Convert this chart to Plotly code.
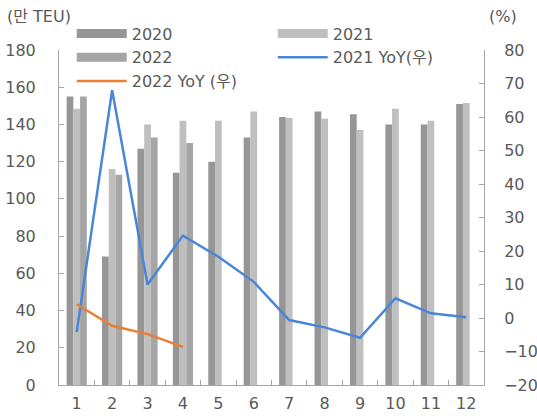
import plotly.graph_objects as go

months = [str(i) for i in range(1, 13)]
v2020 = [155, 69, 127, 114, 120, 133, 144, 147, 145.5, 140, 140, 151]
v2021 = [148.5, 116, 140, 142, 142, 147, 143.5, 143, 137, 148.5, 142, 151.5]
v2022 = [155, 113, 133, 130, None, None, None, None, None, None, None, None]
yoy2021 = [-4.2, 68, 10, 24.6, 18.3, 10.8, -0.6, -2.8, -5.9, 5.9, 1.4, 0.2]
yoy2022 = [4.1, -2.3, -4.8, -8.6]

C2020 = "#969696"
C2021 = "#BFBFBF"
C2022 = "#A5A5A5"
CBLUE = "#4A86D8"
CORANGE = "#ED7D31"
TXT = "#595959"
FONT = "DejaVu Sans, Noto Sans CJK KR, sans-serif"

fig = go.Figure()
for name, vals, col in [("2020", v2020, C2020), ("2021", v2021, C2021), ("2022", v2022, C2022)]:
    fig.add_trace(go.Bar(x=months, y=vals, name=name, marker=dict(color=col, line=dict(width=0)),
                         showlegend=False))

fig.add_trace(go.Scatter(x=months, y=yoy2021, name="2021 YoY(우)", mode="lines",
                         line=dict(color=CBLUE, width=2.5), yaxis="y2", showlegend=False))
fig.add_trace(go.Scatter(x=months[:4], y=yoy2022, name="2022 YoY (우)", mode="lines",
                         line=dict(color=CORANGE, width=2.5), yaxis="y2", showlegend=False))

# legend entries
for name, col, w, rank in [("2020", C2020, 9, 1), ("2021", C2021, 9, 2), ("2022", C2022, 9, 3),
                           ("2021 YoY(우)", CBLUE, 2.5, 4), ("2022 YoY (우)", CORANGE, 2.5, 5)]:
    fig.add_trace(go.Scatter(x=[None], y=[None], mode="lines", name=name,
                             line=dict(color=col, width=w), legendrank=rank, showlegend=True))

fig.update_layout(
    width=537, height=416,
    margin=dict(l=59, r=53, t=50, b=31),
    paper_bgcolor="white", plot_bgcolor="white",
    font=dict(family=FONT, size=16, color=TXT),
    barmode="group", bargap=0.43, bargroupgap=0,
    showlegend=True,
    legend=dict(orientation="h", x=0.03, y=1.10, xanchor="left", yanchor="top",
                entrywidth=136, entrywidthmode="pixels", itemwidth=50,
                font=dict(size=16, color=TXT), bgcolor="rgba(0,0,0,0)", tracegroupgap=0),
    xaxis=dict(type="category", showline=True, linecolor="#A6A6A6", linewidth=1,
               ticks="inside", ticklen=5, tickcolor="#A6A6A6", tickson="boundaries",
               showgrid=False, tickfont=dict(size=16, color=TXT), automargin=False,
               ticklabelstandoff=4),
    yaxis=dict(range=[0, 180], dtick=20, showline=True, linecolor="#A6A6A6", linewidth=1,
               ticks="inside", ticklen=5, tickcolor="#A6A6A6", showgrid=False, zeroline=False,
               tickfont=dict(size=16, color=TXT), ticklabelstandoff=19, automargin=False),
    yaxis2=dict(range=[-20, 80], dtick=10, overlaying="y", side="right", showline=True,
                linecolor="#A6A6A6", linewidth=1, ticks="inside", ticklen=5, tickcolor="#A6A6A6",
                showgrid=False, zeroline=False, tickfont=dict(size=16, color=TXT),
                ticklabelstandoff=16, automargin=False),
    annotations=[
        dict(text="(만 TEU)", xref="paper", yref="paper", x=-59/424.6 + 5/424.6, y=(385-16)/335,
             xanchor="left", yanchor="middle", showarrow=False, font=dict(size=16, color=TXT)),
        dict(text="(%)", xref="paper", yref="paper", x=(487-59)/424.6, y=(385-16)/335,
             xanchor="left", yanchor="middle", showarrow=False, font=dict(size=16, color=TXT)),
    ],
)

fig.write_html("out.html")
